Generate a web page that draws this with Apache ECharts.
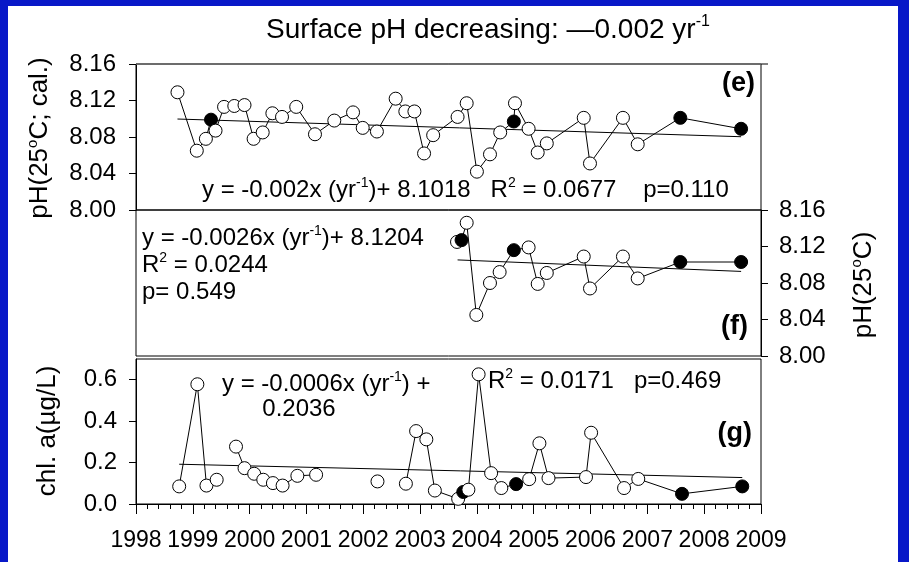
<!DOCTYPE html>
<html><head><meta charset="utf-8">
<script src="https://cdn.jsdelivr.net/npm/echarts@6/dist/echarts.min.js"></script>
<style>html,body{margin:0;padding:0;background:#0818c8}#c{width:909px;height:562px}</style>
</head><body><div id="c"></div>
<script>
// ---------- data ----------
const xTicks = [1998,1999,2000,2001,2002,2003,2004,2005,2006,2007,2008,2009];
const eTicks = [8.00,8.04,8.08,8.12,8.16];
const fTicks = [8.00,8.04,8.08,8.12,8.16];
const gTicks = [0.0,0.2,0.4,0.6];

// panel (e): surface pH (25C; cal.)
const eYear = [1998.73,1999.07,1999.23,1999.32,1999.40,1999.55,1999.73,1999.91,2000.07,2000.23,2000.40,2000.57,2000.82,2001.15,2001.49,2001.82,2001.99,2002.24,2002.57,2002.74,2002.90,2003.07,2003.23,2003.66,2003.82,2004.00,2004.23,2004.41,2004.65,2004.67,2004.91,2005.07,2005.23,2005.88,2005.99,2006.57,2006.83,2007.58,2008.65];
const ePH   = [8.129,8.065,8.078,8.099,8.087,8.113,8.114,8.115,8.078,8.085,8.106,8.102,8.113,8.083,8.098,8.107,8.090,8.086,8.122,8.108,8.108,8.062,8.082,8.102,8.117,8.042,8.061,8.085,8.097,8.117,8.089,8.063,8.073,8.101,8.051,8.101,8.072,8.101,8.089];
const eSolid = [3,28,37,38];
const eTrendYear = [1998.73,2008.65];
const eTrendPH   = [8.0997,8.0803];

// panel (f): pH(25C)
const fYear = [2003.65,2003.73,2003.82,2003.99,2004.23,2004.40,2004.65,2004.91,2005.07,2005.23,2005.88,2005.99,2006.57,2006.83,2007.58,2008.65];
const fPH   = [8.125,8.127,8.146,8.045,8.080,8.092,8.116,8.119,8.079,8.091,8.109,8.074,8.109,8.085,8.103,8.103];
const fSolid = [1,6,14,15];
const fTrendYear = [2003.66,2008.65];
const fTrendPH   = [8.1053,8.0927];

// panel (g): chl. a (ug/L)
const gYear = [1998.76,1999.08,1999.24,1999.42,1999.76,1999.91,2000.08,2000.24,2000.41,2000.58,2000.84,2001.17,2002.25,2002.75,2002.93,2003.11,2003.26,2003.67,2003.76,2003.85,2004.03,2004.25,2004.43,2004.69,2004.92,2005.10,2005.26,2005.92,2006.01,2006.59,2006.84,2007.61,2008.67];
const gChl  = [0.085,0.578,0.089,0.117,0.277,0.173,0.146,0.117,0.101,0.089,0.136,0.141,0.109,0.098,0.352,0.312,0.065,0.025,0.058,0.069,0.626,0.149,0.077,0.096,0.120,0.293,0.125,0.130,0.344,0.077,0.121,0.049,0.085];
const gSolid = [18,23,31,32];
const gSegment = [0,0,0,1,2,2,2,2,2,2,2,2,3,4,4,4,4,4,4,4,4,4,4,4,4,4,4,4,4,4,4,4,4];
const gTrendYear = [1998.76,2008.67];
const gTrendChl  = [0.192,0.1277];

// ---------- build ----------
const F = '"Liberation Sans", Arial, Helvetica, sans-serif';
const OPEN = {color:'#fff', borderColor:'#000', borderWidth:1};
const SOLID = {color:'#000', borderColor:'#000', borderWidth:1};

function pts(xs, ys, solid) {
  return xs.map((x,i)=>({value:[x,ys[i]], itemStyle: solid.includes(i)?SOLID:OPEN}));
}
function dataSeries(data, gi) {
  return {type:'line', xAxisIndex:gi, yAxisIndex:gi, data:data, symbol:'circle', symbolSize:13, showAllSymbol:true,
    lineStyle:{color:'#000', width:1}, z:3, animation:false};
}
function trend(xs, ys, gi) {
  return {type:'line', xAxisIndex:gi, yAxisIndex:gi, data: xs.map((x,i)=>[x,ys[i]]), symbol:'none',
    lineStyle:{color:'#000', width:1}, z:2, animation:false};
}
const series = [
  trend(eTrendYear,eTrendPH,0), dataSeries(pts(eYear,ePH,eSolid),0),
  trend(fTrendYear,fTrendPH,1), dataSeries(pts(fYear,fPH,fSolid),1),
  trend(gTrendYear,gTrendChl,2)
];
const gPts = pts(gYear,gChl,gSolid);
[...new Set(gSegment)].forEach(s=>{
  series.push(dataSeries(gPts.filter((p,i)=>gSegment[i]===s),2));
});

const grids = [
  {left:136, top:64, width:625, height:146},
  {left:136, top:210, width:625, height:146},
  {left:136, top:359, width:625, height:145}
].map(g=>Object.assign(g,{show:true, borderColor:'#000', borderWidth:1, backgroundColor:'transparent'}));

function xAx(gi, visible) {
  return {type:'value', gridIndex:gi, min:xTicks[0], max:xTicks[xTicks.length-1], interval:1,
    axisLine:{show:visible, lineStyle:{color:'#000'}},
    axisTick:{show:visible, inside:false, length:10, lineStyle:{color:'#000'}},
    minorTick:{show:visible, splitNumber:5, length:5, lineStyle:{color:'#000'}},
    axisLabel:{show:visible, fontFamily:F, fontSize:23, color:'#000', margin:25, formatter:v=>String(v)},
    splitLine:{show:false}};
}
function yAx(gi, ticks, max, pos, dec, margin) {
  return {type:'value', gridIndex:gi, position:pos, min:ticks[0], max:max, interval:ticks[1]-ticks[0],
    axisLine:{show:true, lineStyle:{color:'#000'}},
    axisTick:{show:true, inside:false, length:7, lineStyle:{color:'#000'}, customValues:ticks},
    axisLabel:{fontFamily:F, fontSize:24, color:'#000', margin:margin, customValues:ticks, formatter:v=>v.toFixed(dec)},
    splitLine:{show:false}};
}

const rich = {
  n:{fontFamily:F, fontSize:24, color:'#000', lineHeight:28},
  s:{fontFamily:F, fontSize:14, color:'#000', verticalAlign:'top', lineHeight:15},
  t:{fontFamily:F, fontSize:28, color:'#000', lineHeight:32},
  ts:{fontFamily:F, fontSize:16, color:'#000', verticalAlign:'top', lineHeight:16},
  a:{fontFamily:F, fontSize:26, color:'#000', lineHeight:30},
  as:{fontFamily:F, fontSize:15, color:'#000', verticalAlign:'top', lineHeight:16},
  b:{fontFamily:F, fontSize:27, fontWeight:'bold', color:'#000', lineHeight:30}
};
function txt(x,y,text,align,rot){
  return {type:'text', x:x, y:y, rotation:rot||0, silent:true, z:10,
    style:{text:text, rich:rich, align:align||'left', verticalAlign:'middle', fill:'#000'}};
}

const graphic = [
  {type:'rect', shape:{x:8,y:6,width:890,height:560}, style:{fill:'#fff'}, z:-10, silent:true},
  txt(488,30,'{t|Surface pH decreasing: —0.002 yr}{ts|-1}','center'),
  txt(202,190,'{n|y = -0.002x (yr}{s|-1}{n|)+ 8.1018   R}{s|2}{n| = 0.0677    p=0.110}'),
  txt(755,84,'{b|(e)}','right'),
  txt(142,238,'{n|y = -0.0026x (yr}{s|-1}{n|)+ 8.1204}'),
  txt(142,265,'{n|R}{s|2}{n| = 0.0244}'),
  txt(142,292,'{n|p= 0.549}'),
  txt(748,327,'{b|(f)}','right'),
  txt(222,384,'{n|y = -0.0006x (yr}{s|-1}{n|) +}'),
  txt(299,409,'{n|0.2036}','center'),
  txt(488,381,'{n|R}{s|2}{n| = 0.0171   p=0.469}'),
  txt(752,434,'{b|(g)}','right'),
  txt(40,138,'{a|pH(25}{as|o}{a|C; cal.)}','center',Math.PI/2),
  txt(48,431,'{a|chl. a(µg/L)}','center',Math.PI/2),
  txt(864,285,'{a|pH(25}{as|o}{a|C)}','center',Math.PI/2),
  {type:'line', shape:{x1:136,y1:64,x2:761,y2:64}, style:{stroke:'#666',lineWidth:1.5}, z:5, silent:true},
  {type:'line', shape:{x1:761,y1:64,x2:768,y2:64}, style:{stroke:'#000',lineWidth:1}, z:5, silent:true}
];

const chart = echarts.init(document.getElementById('c'), null, {renderer:'canvas'});
chart.setOption({
  backgroundColor:'#0818c8',
  animation:false,
  grid: grids,
  xAxis: [xAx(0,false), xAx(1,false), xAx(2,true)],
  yAxis: [yAx(0,eTicks,8.16,'left',2,20), yAx(1,fTicks,8.16,'right',2,18), yAx(2,gTicks,0.7,'left',1,19)],
  series: series,
  graphic: graphic
});
</script></body></html>
